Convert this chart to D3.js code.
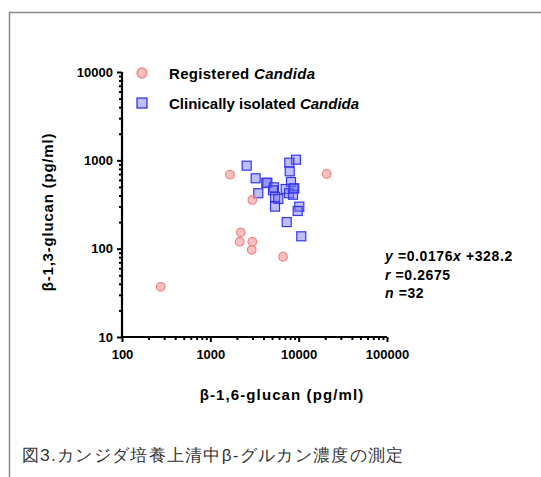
<!DOCTYPE html>
<html lang="ja">
<head>
<meta charset="UTF-8">
<script src="https://d3js.org/d3.v7.min.js"></script>
<style>
  body { margin: 0; background: #fff; }
  svg text { font-family: Arial, "Liberation Sans", sans-serif; }
</style>
</head>
<body>
<script>
  // Registered Candida (circles): [beta-1,6, beta-1,3]
  const registeredX = [1670, 20770, 2990, 2210, 2150, 2990, 2940, 6650, 274];
  const registeredY = [688, 700, 356, 153, 120, 120, 97, 81, 37];

  // Clinically isolated Candida (squares)
  const clinicalX = [2580, 9330, 7830, 7920, 3260, 4300, 4420, 5260, 8190, 7130, 8920,
                     5120, 7780, 8630, 3490, 5400, 5880, 5400, 10170, 9750, 7320, 10710, 8730];
  const clinicalY = [870, 1017, 941, 751, 626, 554, 558, 495, 568, 474, 482,
                     458, 424, 408, 424, 385, 365, 299, 299, 267, 200, 138, 480];

  const xTicks = [100, 1000, 10000, 100000];
  const yTicks = [10, 100, 1000, 10000];
  const statLines = [
    ["y", " =0.0176", "x", " +328.2"],
    ["r", " =0.2675"],
    ["n", " =32"]
  ];

  const width = 541, height = 477;
  const svg = d3.select("body").append("svg")
    .attr("width", width)
    .attr("height", height);

  // frame (top and left only)
  svg.append("path")
    .attr("d", `M9.5,${height} V12.5 H${width}`)
    .attr("fill", "none")
    .attr("stroke", "#8a8a8a")
    .attr("stroke-width", 1.5);

  const x = d3.scaleLog().domain([100, 100000]).range([122, 387]);
  const y = d3.scaleLog().domain([10, 10000]).range([337, 72]);

  // minor ticks 2..9 per decade
  const minorX = [], minorY = [];
  for (let d = 100; d < 100000; d *= 10) for (let k = 2; k <= 9; k++) minorX.push(d * k);
  for (let d = 10; d < 10000; d *= 10) for (let k = 2; k <= 9; k++) minorY.push(d * k);

  const xAxis = svg.append("g").attr("transform", "translate(0,337)");
  xAxis.call(d3.axisBottom(x).tickValues(minorX).tickSize(3).tickFormat(""));
  xAxis.call(g => g.select(".domain").remove());
  xAxis.append("g").call(d3.axisBottom(x).tickValues(xTicks).tickSize(5).tickPadding(8)
    .tickFormat(d3.format("d")));
  xAxis.selectAll("line").attr("stroke", "#000").attr("stroke-width", 2);
  xAxis.selectAll(".domain").attr("stroke", "#000").attr("stroke-width", 2.2)
    .attr("d", "M122,0H387");
  xAxis.selectAll("text").attr("font-size", 13).attr("font-weight", "bold").attr("fill", "#000");

  const yAxis = svg.append("g").attr("transform", "translate(122,0)");
  yAxis.call(d3.axisLeft(y).tickValues(minorY).tickSize(3).tickFormat(""));
  yAxis.call(g => g.select(".domain").remove());
  yAxis.append("g").call(d3.axisLeft(y).tickValues(yTicks).tickSize(5).tickPadding(4)
    .tickFormat(d3.format("d")));
  yAxis.selectAll("line").attr("stroke", "#000").attr("stroke-width", 2);
  yAxis.selectAll(".domain").attr("stroke", "#000").attr("stroke-width", 2.2)
    .attr("d", "M0,72V337");
  yAxis.selectAll("text").attr("font-size", 13).attr("font-weight", "bold").attr("fill", "#000");

  // axis titles
  svg.append("text")
    .attr("x", 282).attr("y", 400)
    .attr("text-anchor", "middle")
    .attr("font-size", 15).attr("font-weight", "bold")
    .attr("letter-spacing", 1.1)
    .text("β-1,6-glucan (pg/ml)");

  svg.append("text")
    .attr("transform", "translate(53,212) rotate(-90)")
    .attr("text-anchor", "middle")
    .attr("font-size", 15).attr("font-weight", "bold")
    .attr("letter-spacing", 0.8)
    .text("β-1,3-glucan (pg/ml)");

  const circleFill = "rgba(244,140,140,0.55)", circleStroke = "#ef8585";
  const squareFill = "rgba(110,110,245,0.45)", squareStroke = "#3535f0";

  // squares
  svg.append("g").selectAll("rect")
    .data(d3.zip(clinicalX, clinicalY))
    .join("rect")
    .attr("x", d => x(d[0]) - 4.5)
    .attr("y", d => y(d[1]) - 4.5)
    .attr("width", 9).attr("height", 9)
    .attr("fill", squareFill)
    .attr("stroke", squareStroke)
    .attr("stroke-width", 1.2);

  // circles
  svg.append("g").selectAll("circle")
    .data(d3.zip(registeredX, registeredY))
    .join("circle")
    .attr("cx", d => x(d[0]))
    .attr("cy", d => y(d[1]))
    .attr("r", 4.3)
    .attr("fill", circleFill)
    .attr("stroke", circleStroke)
    .attr("stroke-width", 1.2);

  // legend
  const legend = svg.append("g");
  legend.append("circle").attr("cx", 142).attr("cy", 73).attr("r", 5)
    .attr("fill", circleFill).attr("stroke", circleStroke).attr("stroke-width", 1.3);
  legend.append("rect").attr("x", 137).attr("y", 98).attr("width", 10).attr("height", 10)
    .attr("fill", squareFill).attr("stroke", squareStroke).attr("stroke-width", 1.3);

  const leg1 = legend.append("text").attr("x", 169).attr("y", 79)
    .attr("font-size", 15).attr("font-weight", "bold").attr("letter-spacing", 0.3);
  leg1.append("tspan").text("Registered ");
  leg1.append("tspan").attr("font-style", "italic").text("Candida");

  const leg2 = legend.append("text").attr("x", 169).attr("y", 109)
    .attr("font-size", 15).attr("font-weight", "bold");
  leg2.append("tspan").text("Clinically  isolated ");
  leg2.append("tspan").attr("font-style", "italic").text("Candida");

  // regression stats
  statLines.forEach((parts, i) => {
    const t = svg.append("text").attr("x", 385).attr("y", 261 + i * 18.5)
      .attr("font-size", 14).attr("font-weight", "bold").attr("letter-spacing", 0.6);
    parts.forEach((p, j) => {
      t.append("tspan").attr("font-style", j % 2 === 0 ? "italic" : "normal").text(p);
    });
  });

  // caption
  svg.append("text")
    .attr("x", 22).attr("y", 461)
    .attr("font-family", "'Noto Sans CJK JP', sans-serif")
    .attr("font-size", 17)
    .attr("letter-spacing", 1.3)
    .attr("fill", "#333")
    .text("図3.カンジダ培養上清中β-グルカン濃度の測定");
</script>
</body>
</html>
